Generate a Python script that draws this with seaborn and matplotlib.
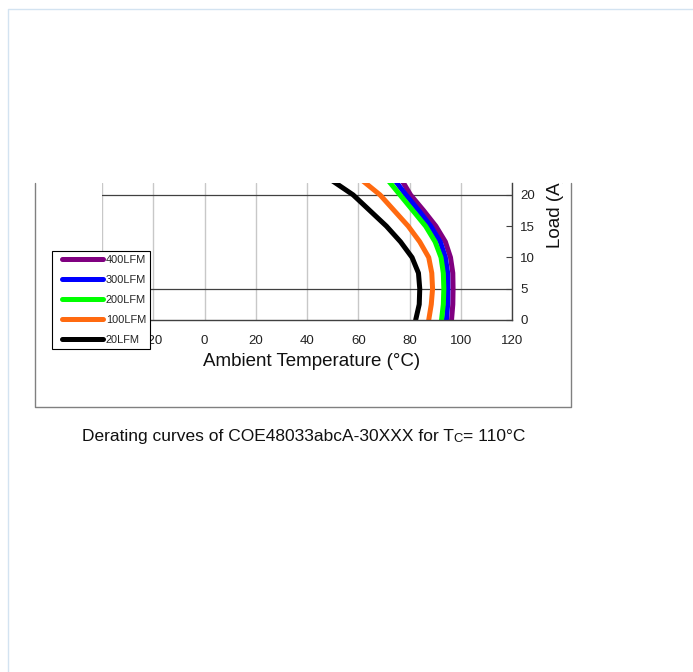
import matplotlib
matplotlib.use("Agg")
import matplotlib.pyplot as plt
from matplotlib.legend_handler import HandlerLine2D
from matplotlib.lines import Line2D
from matplotlib.transforms import Bbox, TransformedBbox
import pandas as pd
import seaborn as sns

# ambient temperature (C) at these loads (A)
load = [0, 2.5, 5, 7.5, 10, 12.5, 15, 17.5, 20, 22.5]
t_400 = [96.4, 96.9, 97.0, 96.9, 96.0, 94.0, 90.3, 85.5, 80.4, 76.8]
t_300 = [94.4, 94.9, 95.0, 94.9, 94.0, 92.0, 88.3, 83.6, 78.6, 74.0]
t_200 = [92.5, 93.2, 93.4, 93.2, 92.3, 90.0, 86.3, 81.3, 76.3, 71.3]
t_100 = [87.5, 88.5, 89.0, 88.7, 87.5, 84.0, 79.5, 74.0, 68.5, 61.0]
t_20 = [82.4, 83.8, 84.0, 83.5, 81.0, 76.5, 71.0, 64.5, 58.0, 49.0]
airflow = ['400LFM', '300LFM', '200LFM', '100LFM', '20LFM']
colors = ['#800080', '#0000ff', '#00ff00', '#ff6a10', '#000000']
x_ticks = [-40, -20, 0, 20, 40, 60, 80, 100, 120]
# the -40 label sits under the legend in the original, so it is left empty
x_labels = ['', '-20', '0', '20', '40', '60', '80', '100', '120']
y_ticks = [0, 5, 10, 15, 20]
h_lines = [5, 20]

frames = []
for name, temps in zip(airflow, [t_400, t_300, t_200, t_100, t_20]):
    frames.append(pd.DataFrame({'temp': temps, 'load': load, 'airflow': name}))
df = pd.concat(frames, ignore_index=True)

sns.set_style('white')
plt.rcParams['font.family'] = ['Liberation Sans', 'DejaVu Sans']

W, H = 693, 672
fig = plt.figure(figsize=(W / 100, H / 100), dpi=100)

def fx(px):
    return px / W

def fy(py):
    return 1 - py / H

ax = fig.add_axes([fx(102), fy(320), fx(512) - fx(102), fy(183) - fy(320)])
sns.lineplot(data=df, x='temp', y='load', hue='airflow', hue_order=airflow,
             palette=colors, sort=False, estimator=None, linewidth=3.6,
             legend=False, ax=ax)

ax.set_xlim(-40, 120)
ax.set_ylim(0, 21.9)
ax.set_xticks(x_ticks, x_labels)
ax.set_yticks(y_ticks)
ax.grid(True, axis='x', color='#c8c8c8', linewidth=1.0)
for y in h_lines:
    ax.axhline(y, color='#404040', linewidth=0.9, zorder=1)
ax.set_xlabel('')
ax.set_ylabel('')
ax.yaxis.tick_right()
for s in ['top', 'left']:
    ax.spines[s].set_visible(False)
for s in ['bottom', 'right']:
    ax.spines[s].set_color('#404040')
    ax.spines[s].set_linewidth(1.0)
ax.tick_params(direction='in', length=4, width=0.8, color='#404040',
               labelsize=9.5, labelcolor='#222222')
ax.tick_params(axis='x', pad=11)
ax.tick_params(axis='y', pad=6)

fig.text(fx(311.5), fy(366), 'Ambient Temperature (°C)', fontsize=13.5,
         ha='center', va='baseline', color='#111111')
ylab = fig.text(fx(555), fy(248), 'Load (A)', fontsize=13.5, rotation=90,
                ha='center', va='bottom', color='#111111')
ylab.set_clip_box(TransformedBbox(Bbox([[0, 0], [1, fy(183)]]), fig.transFigure))
ylab.set_clip_on(True)

# outer chart frame (top is cut off) and page border
fig.add_artist(Line2D([fx(35), fx(35), fx(571), fx(571)],
                      [fy(183), fy(407), fy(407), fy(183)],
                      transform=fig.transFigure, color='#808080', linewidth=1.0))
fig.add_artist(Line2D([fx(7.5), fx(7.5), 1], [0, fy(8.5), fy(8.5)],
                      transform=fig.transFigure, color='#d3e3f1', linewidth=1.0))

handles = [Line2D([], [], color=c, linewidth=3.6, solid_capstyle='round') for c in colors]
leg = fig.legend(handles, airflow, loc='upper left',
                 bbox_to_anchor=(fx(51.5), fy(251.5)), bbox_transform=fig.transFigure,
                 borderaxespad=0, fontsize=7.9, frameon=True, fancybox=False,
                 edgecolor='black', framealpha=1, handlelength=4.3,
                 handletextpad=0.3, labelspacing=0.9, borderpad=0.35,
                 handler_map={Line2D: HandlerLine2D(xpad=0.6)})
leg.get_frame().set_linewidth(0.8)

# caption with subscript C
renderer = fig.canvas.get_renderer()
t1 = fig.text(fx(82), fy(441), 'Derating curves of COE48033abcA-30XXX for T',
              fontsize=12.5, va='baseline', color='#111111')
x1 = t1.get_window_extent(renderer).x1
t2 = fig.text(x1 / W, fy(442), 'C', fontsize=9.4, va='baseline', color='#111111')
x2 = t2.get_window_extent(renderer).x1
fig.text(x2 / W, fy(441), '= 110°C', fontsize=12.5, va='baseline', color='#111111')

fig.savefig('out.png', dpi=100)
